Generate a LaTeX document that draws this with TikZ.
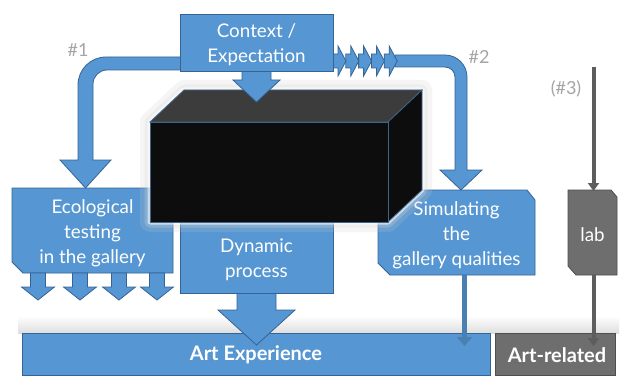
\documentclass[tikz,border=0pt]{standalone}
\usepackage{fontspec}
\setmainfont{Lato}
\usetikzlibrary{arrows.meta}
\definecolor{myblue}{RGB}{86,150,210}
\definecolor{myblueedge}{RGB}{52,100,150}
\definecolor{mygray}{RGB}{110,110,110}
\definecolor{mygrayedge}{RGB}{78,78,78}
\definecolor{numgray}{RGB}{165,165,165}
\definecolor{cubefront}{RGB}{13,13,13}
\definecolor{cubetop}{RGB}{60,60,60}
\definecolor{cubeedge}{RGB}{62,100,140}
\newcommand{\myvarrow}[7][]{%
  \draw[#1] ({#2-#4},#3) -- ({#2-#4},#5) -- ({#2-#6},#5) -- (#2,#7) -- ({#2+#6},#5) -- ({#2+#4},#5) -- ({#2+#4},#3) -- cycle;}
\newcommand{\mychevron}[1]{%
  \draw[bluebox] (#1,54) -- ({#1+5},54) -- ({#1+5},46) -- ({#1+13},61) -- ({#1+5},76) -- ({#1+5},68) -- (#1,68) -- cycle;}
\begin{document}
\begin{tikzpicture}[x=1pt,y=-1pt,
  bluebox/.style={fill=myblue, draw=myblueedge, line width=0.8pt, line join=miter},
  graybox/.style={fill=mygray, draw=mygrayedge, line width=0.8pt},
  lbl/.style={text=white, font=\fontsize{18.8}{25}\selectfont, align=center, inner sep=0pt},
  barlbl/.style={text=white, font=\bfseries\fontsize{20}{22}\selectfont, inner sep=0pt},
  numlbl/.style={text=numgray, font=\fontsize{18}{20}\selectfont, inner sep=0pt},
  thinblue/.style={draw=myblue!85!black, line width=5pt, -{Triangle[width=15pt,length=9pt]}},
  thingray/.style={draw=mygray!85!black, line width=4pt, -{Triangle[width=11pt,length=8pt]}}]
\useasboundingbox (0,0) rectangle (623,377);
\fill[white] (0,0) rectangle (623,377);

% shadow above bottom bars
\shade[top color=white, bottom color=black!13] (18,316) rectangle (619,333);

% bottom bars
\draw[bluebox] (22,333) rectangle (490,375);
\draw[graybox] (495,333) rectangle (615,375);
\node[barlbl] (artx) at (256,355) {Art Experience};
\node[barlbl] (artr) at (557,355) {Art-related};
\coordinate (artxin) at (464.5,346);
\coordinate (artrin) at (593.5,346);

% Ecological box
\draw[bluebox] (12,188) -- (173,188) -- (173,273) -- (23,273) -- (12,262) -- cycle;
\foreach \cx in {38,80,119,157} {\myvarrow[bluebox]{\cx}{273}{7.5}{287}{16.5}{300}}
\node[lbl] (eco) at (92.5,233) {Ecological\\testing\\in the gallery};

% Dynamic process box and arrow
\myvarrow[bluebox]{256.5}{290}{19.5}{310}{38.5}{345}
\draw[bluebox] (180,195) rectangle (333,293);
\node[lbl] (dyn) at (256.5,260) {Dynamic\\process};

% Simulating box
\draw[bluebox] (378,190) -- (527,190) -- (535,200) -- (535,275) -- (390,275) -- (378,263) -- cycle;
\node[lbl] (sim) at (456.5,235) {Simulating\\the\\gallery qualities};
\coordinate (simout) at (464.5,275);
\draw[thinblue] (simout) -- (artxin);

% lab box
\draw[graybox] (568,190) -- (611,190) -- (617,197) -- (617,275) -- (576,275) -- (568,266) -- cycle;
\node[lbl] (lab) at (592.5,235) {lab};
\coordinate (labout) at (593.5,275);
\coordinate (labin) at (593.5,191);
\coordinate (lab3) at (593.5,67);
\draw[thingray] (labout) -- (artrin);
\draw[thingray] (lab3) -- (labin);

% #1 arrow
\draw[bluebox] (182,57) -- (106,57) .. controls (90.5,57) and (78,69.5) .. (78,85)
  -- (78,160) -- (60,160) -- (85.5,188) -- (111,160) -- (93,160) -- (93,84)
  .. controls (93,76.3) and (99.3,70) .. (107,70) -- (182,70) -- cycle;

% #2 arrow
\draw[bluebox] (395,55) -- (445,55) .. controls (457.1,55) and (467,64.9) .. (467,77)
  -- (467,170) -- (482,170) -- (461,190) -- (440,170) -- (455,170) -- (455,77)
  .. controls (455,71.5) and (450.5,67) .. (445,67) -- (395,67) -- cycle;
\foreach \i in {4,3,2,1,0} {\mychevron{333+12.8*\i}}

% cube halo
\begin{scope}[line join=round]
\draw[black!20, opacity=0.18, line width=20pt] (150,122) -- (184,90) -- (422,90) -- (422,190) -- (388,222) -- (150,222) -- cycle;
\draw[black!15, opacity=0.25, line width=11pt] (150,122) -- (184,90) -- (422,90) -- (422,190) -- (388,222) -- (150,222) -- cycle;
\draw[white, opacity=0.55, line width=5pt] (150,122) -- (184,90) -- (422,90) -- (422,190) -- (388,222) -- (150,222) -- cycle;
\end{scope}
% cube
\draw[fill=cubetop, draw=cubeedge, line width=0.8pt] (150,122) -- (184,90) -- (422,90) -- (388,122) -- cycle;
\draw[fill=cubefront, draw=cubeedge, line width=0.8pt] (388,122) -- (422,90) -- (422,190) -- (388,222) -- cycle;
\draw[fill=cubefront, draw=cubeedge, line width=0.8pt] (150,122) rectangle (388,222);

% Context box and arrow
\myvarrow[bluebox]{256.5}{68}{14.5}{80}{23.5}{102}
\draw[bluebox] (180,14) rectangle (333,71);
\node[lbl] (ctx) at (256.5,44.5) {Context /\\Expectation};

% numbers
\node[numlbl] (n1) at (78,50) {\#1};
\node[numlbl] (n2) at (479,57) {\#2};
\node[numlbl] (n3) at (566,89) {(\#3)};
\end{tikzpicture}
\end{document}
